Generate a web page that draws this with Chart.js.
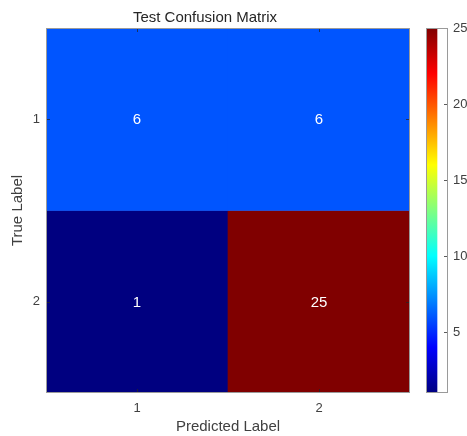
<!DOCTYPE html>
<html>
<head>
<meta charset="utf-8">
<script src="https://cdn.jsdelivr.net/npm/chart.js@4/dist/chart.umd.min.js"></script>
<style>
  html, body { margin: 0; padding: 0; background: #fff; }
  #wrap { position: relative; width: 467px; height: 436px; }
  #main { position: absolute; left: 0; top: 0; }
  #cbar { position: absolute; left: 410px; top: 0; }
</style>
</head>
<body>
<div id="wrap">
  <canvas id="main" width="467" height="436"></canvas>
  <canvas id="cbar" width="57" height="436"></canvas>
</div>
<script>
// ---- data ----
const predictedLabels = ['1', '2'];
const trueLabels = ['1', '2'];
const row1Counts = [6, 6];
const row2Counts = [1, 25];
const colorMin = 1;
const colorMax = 25;
const colorbarTicks = [5, 10, 15, 20, 25];
const chartTitle = 'Test Confusion Matrix';
const xTitle = 'Predicted Label';
const yTitle = 'True Label';

const matrix = [row1Counts, row2Counts];

// jet colormap
function jet(v) {
  let t = (v - colorMin) / (colorMax - colorMin);
  t = Math.max(0, Math.min(1, t));
  const c = x => Math.round(255 * Math.max(0, Math.min(1, x)));
  const r = c(1.5 - Math.abs(4 * t - 3));
  const g = c(1.5 - Math.abs(4 * t - 2));
  const b = c(1.5 - Math.abs(4 * t - 1));
  return `rgb(${r},${g},${b})`;
}

const FONT = "'Liberation Sans', Arial, Helvetica, sans-serif";
const TXT = '#262626';
const TICKTXT = '#404040';
const BORDER = '#9a9a9a';
const TICKC = 'rgba(38,38,38,0.75)';

const datasets = trueLabels.map((lab, i) => ({
  label: 'True ' + lab,
  data: predictedLabels.map(() => [i + 1 - 0.5, i + 1 + 0.5]),
  counts: matrix[i],
  backgroundColor: matrix[i].map(jet),
  borderWidth: 0,
  barPercentage: 1,
  categoryPercentage: 1,
  grouped: false
}));

const frameAndText = {
  id: 'frameAndText',
  afterDatasetsDraw(chart) {
    const ctx = chart.ctx;
    const a = chart.chartArea;
    ctx.save();
    ctx.fillStyle = '#ffffff';
    ctx.font = '15px ' + FONT;
    ctx.textAlign = 'center';
    ctx.textBaseline = 'middle';
    chart.data.datasets.forEach((ds, di) => {
      chart.getDatasetMeta(di).data.forEach((bar, j) => {
        const cx = bar.x;
        const cy = (bar.y + bar.base) / 2;
        ctx.fillText(String(ds.counts[j]), cx, cy + 1);
      });
    });
    const xs = chart.scales.x, ys = chart.scales.y;
    ctx.strokeStyle = TICKC;
    ctx.lineWidth = 1;
    const L = 4;
    ctx.beginPath();
    xs.ticks.forEach((t, i) => {
      const px = Math.round(xs.getPixelForTick(i)) + 0.5;
      ctx.moveTo(px, a.bottom); ctx.lineTo(px, a.bottom - L);
      ctx.moveTo(px, a.top); ctx.lineTo(px, a.top + L);
    });
    ys.ticks.forEach((t, i) => {
      const py = Math.round(ys.getPixelForValue(t.value)) + 0.5;
      ctx.moveTo(a.left, py); ctx.lineTo(a.left + L, py);
      ctx.moveTo(a.right, py); ctx.lineTo(a.right - L, py);
    });
    ctx.stroke();
    ctx.strokeStyle = BORDER;
    ctx.strokeRect(a.left + 0.5, a.top + 0.5, a.right - a.left - 1, a.bottom - a.top - 1);
    ctx.restore();
  }
};

new Chart(document.getElementById('main'), {
  type: 'bar',
  data: { labels: predictedLabels, datasets },
  options: {
    responsive: false,
    animation: false,
    devicePixelRatio: 1,
    layout: { padding: { left: 0, right: 57, top: 0, bottom: 0 } },
    plugins: {
      legend: { display: false },
      tooltip: { enabled: false },
      title: {
        display: true,
        text: chartTitle,
        color: TXT,
        font: { family: FONT, size: 15, weight: 'normal', lineHeight: 1.2 },
        padding: { top: 9, bottom: 1 }
      }
    },
    scales: {
      x: {
        offset: true,
        grid: { display: false, drawTicks: false },
        border: { display: false },
        ticks: { color: TICKTXT, font: { family: FONT, size: 13 }, padding: 8 },
        title: {
          display: true, text: xTitle, color: TICKTXT,
          font: { family: FONT, size: 15, lineHeight: 1.2 },
          padding: { top: 0, bottom: 0 }
        },
        afterFit(s) { s.height = 43; }
      },
      y: {
        type: 'linear',
        reverse: true,
        min: 0.5,
        max: 2.5,
        grid: { display: false, drawTicks: false },
        border: { display: false },
        afterBuildTicks(s) { s.ticks = trueLabels.map((l, i) => ({ value: i + 1 })); },
        ticks: {
          color: TICKTXT, font: { family: FONT, size: 13 }, padding: 6,
          callback: (v) => trueLabels[Math.round(v) - 1]
        },
        title: {
          display: true, text: yTitle, color: TICKTXT,
          font: { family: FONT, size: 15, lineHeight: 1.2 },
          padding: { top: 9, bottom: 0 }
        },
        afterFit(s) { s.width = 46; }
      }
    }
  },
  plugins: [frameAndText]
});

// ---- colorbar ----
const cbFrame = {
  id: 'cbFrame',
  afterDatasetsDraw(chart) {
    const ctx = chart.ctx, a = chart.chartArea, ys = chart.scales.y;
    ctx.save();
    ctx.strokeStyle = TICKC;
    ctx.lineWidth = 1;
    ctx.beginPath();
    ys.ticks.forEach(t => {
      const py = Math.round(ys.getPixelForValue(t.value)) + 0.5;
      ctx.moveTo(a.right, py); ctx.lineTo(a.right - 4, py);
    });
    ctx.stroke();
    ctx.strokeStyle = BORDER;
    ctx.strokeRect(a.left + 0.5, a.top + 0.5, a.right - a.left - 1, a.bottom - a.top - 1);
    ctx.restore();
  }
};

new Chart(document.getElementById('cbar'), {
  type: 'bar',
  data: {
    labels: ['cb'],
    datasets: [{
      data: [[colorMin, colorMax]],
      borderWidth: 0,
      barPercentage: 1,
      categoryPercentage: 1,
      backgroundColor(ctx) {
        const chart = ctx.chart, ys = chart.scales.y;
        if (!ys || !chart.chartArea) return jet(colorMin);
        const y0 = ys.getPixelForValue(colorMin), y1 = ys.getPixelForValue(colorMax);
        const g = chart.ctx.createLinearGradient(0, y0, 0, y1);
        for (let k = 0; k <= 48; k++) {
          const v = colorMin + (colorMax - colorMin) * k / 48;
          g.addColorStop(k / 48, jet(v));
        }
        return g;
      }
    }]
  },
  options: {
    responsive: false,
    animation: false,
    devicePixelRatio: 1,
    layout: { padding: { left: 16, right: 0, top: 28, bottom: 43 } },
    plugins: { legend: { display: false }, tooltip: { enabled: false }, title: { display: false } },
    scales: {
      x: { display: false, offset: false },
      y: {
        type: 'linear',
        position: 'right',
        min: colorMin,
        max: colorMax,
        grid: { display: false, drawTicks: false },
        border: { display: false },
        afterBuildTicks(s) { s.ticks = colorbarTicks.map(v => ({ value: v })); },
        ticks: { color: TICKTXT, font: { family: FONT, size: 13 }, padding: 5 },
        afterFit(s) { s.width = 19; }
      }
    }
  },
  plugins: [cbFrame]
});
</script>
</body>
</html>
